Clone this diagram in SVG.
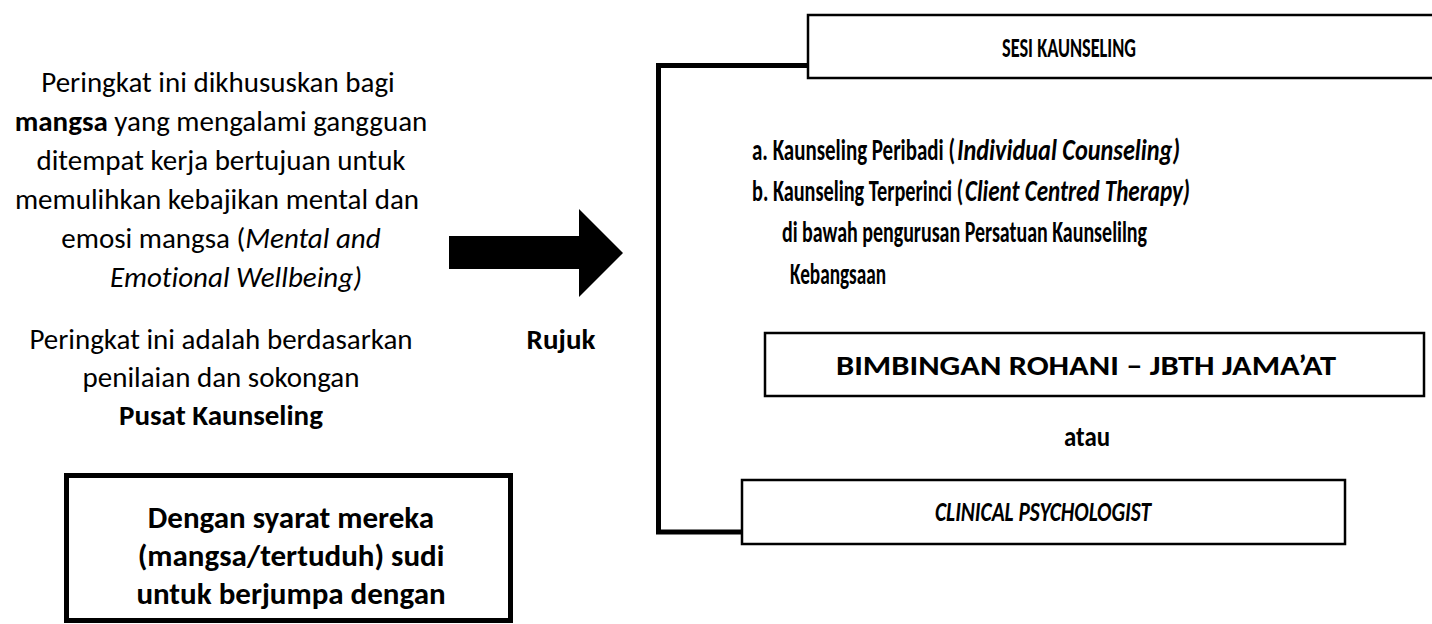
<svg xmlns="http://www.w3.org/2000/svg" width="1432" height="624" viewBox="0 0 1432 624">
<style>
  text { font-family: Carlito, Lato, "Liberation Sans", sans-serif; fill: #000; font-variant-ligatures: none; }
  .left { font-size: 29px; text-anchor: middle; }
  .cond { font-size: 31px; font-weight: bold; text-anchor: middle; }
  .b { font-weight: bold; }
  .i { font-style: italic; }
  .rt { font-size: 28px; font-weight: bold; }
  .it { font-size: 30px; font-weight: bold; }
  .box { fill: #fff; stroke: #000; stroke-width: 2.5; }
  .conn { fill: none; stroke: #000; stroke-width: 5; stroke-linejoin: miter; }
</style>
<rect width="1432" height="624" fill="#fff"/>

<g id="connectors">
  <path class="conn" d="M 808 65.5 H 658.5 V 532 H 742"/>
  <polygon id="arrow" points="449,236 579,236 579,209 623,253 579,297 579,269 449,269" fill="#000"/>
</g>

<g id="desc-text">
  <text class="left" x="218" y="92">Peringkat ini dikhususkan bagi</text>
  <text class="left" x="221" y="131"><tspan class="b">mangsa</tspan> yang mengalami gangguan</text>
  <text class="left" x="221" y="170">ditempat kerja bertujuan untuk</text>
  <text class="left" x="217" y="209">memulihkan kebajikan mental dan</text>
  <text class="left" x="221" y="248">emosi mangsa (<tspan class="i">Mental and</tspan></text>
  <text class="left" x="236" y="287"><tspan class="i">Emotional Wellbeing)</tspan></text>
</g>

<g id="basis-text">
  <text class="left" x="221" y="349">Peringkat ini adalah berdasarkan</text>
  <text class="left" x="221" y="387">penilaian dan sokongan</text>
  <text class="left b" x="221" y="425">Pusat Kaunseling</text>
</g>

<g id="rujuk">
  <text class="b" x="561" y="349" font-size="29" text-anchor="middle">Rujuk</text>
</g>

<g id="condition">
  <rect x="66.5" y="475.5" width="444" height="145" fill="#fff" stroke="#000" stroke-width="5"/>
  <text class="cond" x="291" y="528">Dengan syarat mereka</text>
  <text class="cond" x="291" y="566">(mangsa/tertuduh) sudi</text>
  <text class="cond" x="291" y="604">untuk berjumpa dengan</text>
</g>

<g id="sesi">
  <rect class="box" x="808" y="15" width="640" height="63"/>
  <text class="rt" x="1069" y="57" font-size="29" text-anchor="middle" textLength="134" lengthAdjust="spacingAndGlyphs">SESI KAUNSELING</text>
</g>

<g id="sesi-items">
  <text class="it" x="752" y="160" textLength="203" lengthAdjust="spacingAndGlyphs">a. Kaunseling Peribadi (</text>
  <text class="it i" x="957" y="160" textLength="223" lengthAdjust="spacingAndGlyphs">Individual Counseling)</text>
  <text class="it" x="752" y="201" textLength="211" lengthAdjust="spacingAndGlyphs">b. Kaunseling Terperinci (</text>
  <text class="it i" x="965" y="201" textLength="225" lengthAdjust="spacingAndGlyphs">Client Centred Therapy)</text>
  <text class="it" x="782" y="242" textLength="365" lengthAdjust="spacingAndGlyphs">di bawah pengurusan Persatuan Kaunselilng</text>
  <text class="it" x="790" y="284" textLength="96" lengthAdjust="spacingAndGlyphs">Kebangsaan</text>
</g>

<g id="bimbingan">
  <rect class="box" x="765" y="333" width="659" height="63"/>
  <text class="rt" x="1086" y="375" font-size="30" text-anchor="middle" textLength="500" lengthAdjust="spacingAndGlyphs">BIMBINGAN ROHANI – JBTH JAMA’AT</text>
</g>

<g id="atau">
  <text class="rt" x="1087" y="446" text-anchor="middle" textLength="46" lengthAdjust="spacingAndGlyphs">atau</text>
</g>

<g id="clinical">
  <rect class="box" x="742" y="480" width="603" height="64"/>
  <text class="rt i" x="1043" y="521" font-weight="normal" text-anchor="middle" textLength="216" lengthAdjust="spacingAndGlyphs">CLINICAL PSYCHOLOGIST</text>
</g>
</svg>
